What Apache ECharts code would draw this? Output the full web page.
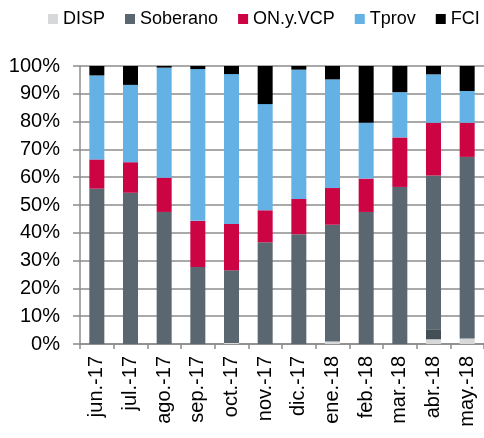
<!DOCTYPE html>
<html>
<head>
<meta charset="utf-8">
<script src="https://cdn.jsdelivr.net/npm/echarts@6/dist/echarts.min.js"></script>
<style>html,body{margin:0;padding:0;background:#fff;}#c{width:484px;height:438px;}</style>
</head>
<body>
<div id="c"></div>
<script>
var categories = ['jun.-17','jul.-17','ago.-17','sep.-17','oct.-17','nov.-17','dic.-17','ene.-18','feb.-18','mar.-18','abr.-18','may.-18'];
var disp     = [0,    0,    0,    0,    0.4,  0,    0,    0.9,  0,    0,    1.7,  2.0];
var otros    = [0,    0,    0,    0,    0,    0,    0,    0,    0,    0,    3.6,  0];
var soberano = [55.9, 54.4, 47.5, 27.7, 26.1, 36.6, 39.5, 42.0, 47.5, 56.5, 55.3, 65.3];
var onyvcp   = [10.5, 11.0, 12.3, 16.6, 16.7, 11.5, 12.7, 13.2, 12.0, 17.8, 19.0, 12.3];
var tprov    = [30.2, 27.8, 39.6, 54.6, 53.9, 38.2, 46.5, 39.1, 20.1, 16.3, 17.4, 11.4];
var fci      = [3.4,  6.8,  0.6,  1.1,  2.9,  13.7, 1.3,  4.8,  20.4, 9.4,  3.0,  9.0];
var yTicks = [0,10,20,30,40,50,60,70,80,90,100];

var FONT = 'Liberation Sans, Arial, sans-serif';
function bar(name, data, color) {
  return { name: name, type: 'bar', stack: 'total', data: data, barWidth: 15,
    itemStyle: { color: color }, emphasis: { disabled: true } };
}
var chart = echarts.init(document.getElementById('c'), null, { renderer: 'canvas' });
chart.setOption({
  animation: false,
  legend: {
    data: ['DISP','Soberano','ON.y.VCP','Tprov','FCI'],
    left: 43, top: 5, width: 460, icon: 'rect', itemWidth: 10, itemHeight: 10, itemGap: 20,
    textStyle: { fontFamily: FONT, fontSize: 18, color: '#000' }
  },
  grid: { left: 80, right: 0, top: 66, bottom: 94, containLabel: false },
  xAxis: {
    type: 'category', data: categories,
    axisLine: { lineStyle: { color: '#8c8c8c', width: 1.5 } },
    axisTick: { show: true, length: 5, alignWithLabel: false, lineStyle: { color: '#8c8c8c', width: 1.5 } },
    axisLabel: { rotate: 90, margin: 12, fontFamily: FONT, fontSize: 20, color: '#000' }
  },
  yAxis: {
    type: 'value', min: 0, max: 100, interval: 10,
    axisLine: { show: true, lineStyle: { color: '#8c8c8c', width: 1.5 } },
    axisTick: { show: true, length: 7, lineStyle: { color: '#8c8c8c', width: 1.5 } },
    splitLine: { show: true, lineStyle: { color: '#8c8c8c', width: 1.5 } },
    axisLabel: { margin: 20, fontFamily: FONT, fontSize: 20, color: '#000',
      formatter: function (v) { return yTicks.indexOf(v) >= 0 ? v + '%' : ''; } }
  },
  series: [
    bar('DISP', disp, '#d6d8d9'),
    bar('Otros', otros, '#444e55'),
    bar('Soberano', soberano, '#5b6770'),
    bar('ON.y.VCP', onyvcp, '#cc0444'),
    bar('Tprov', tprov, '#63b1e5'),
    bar('FCI', fci, '#000000')
  ]
});
</script>
</body>
</html>
